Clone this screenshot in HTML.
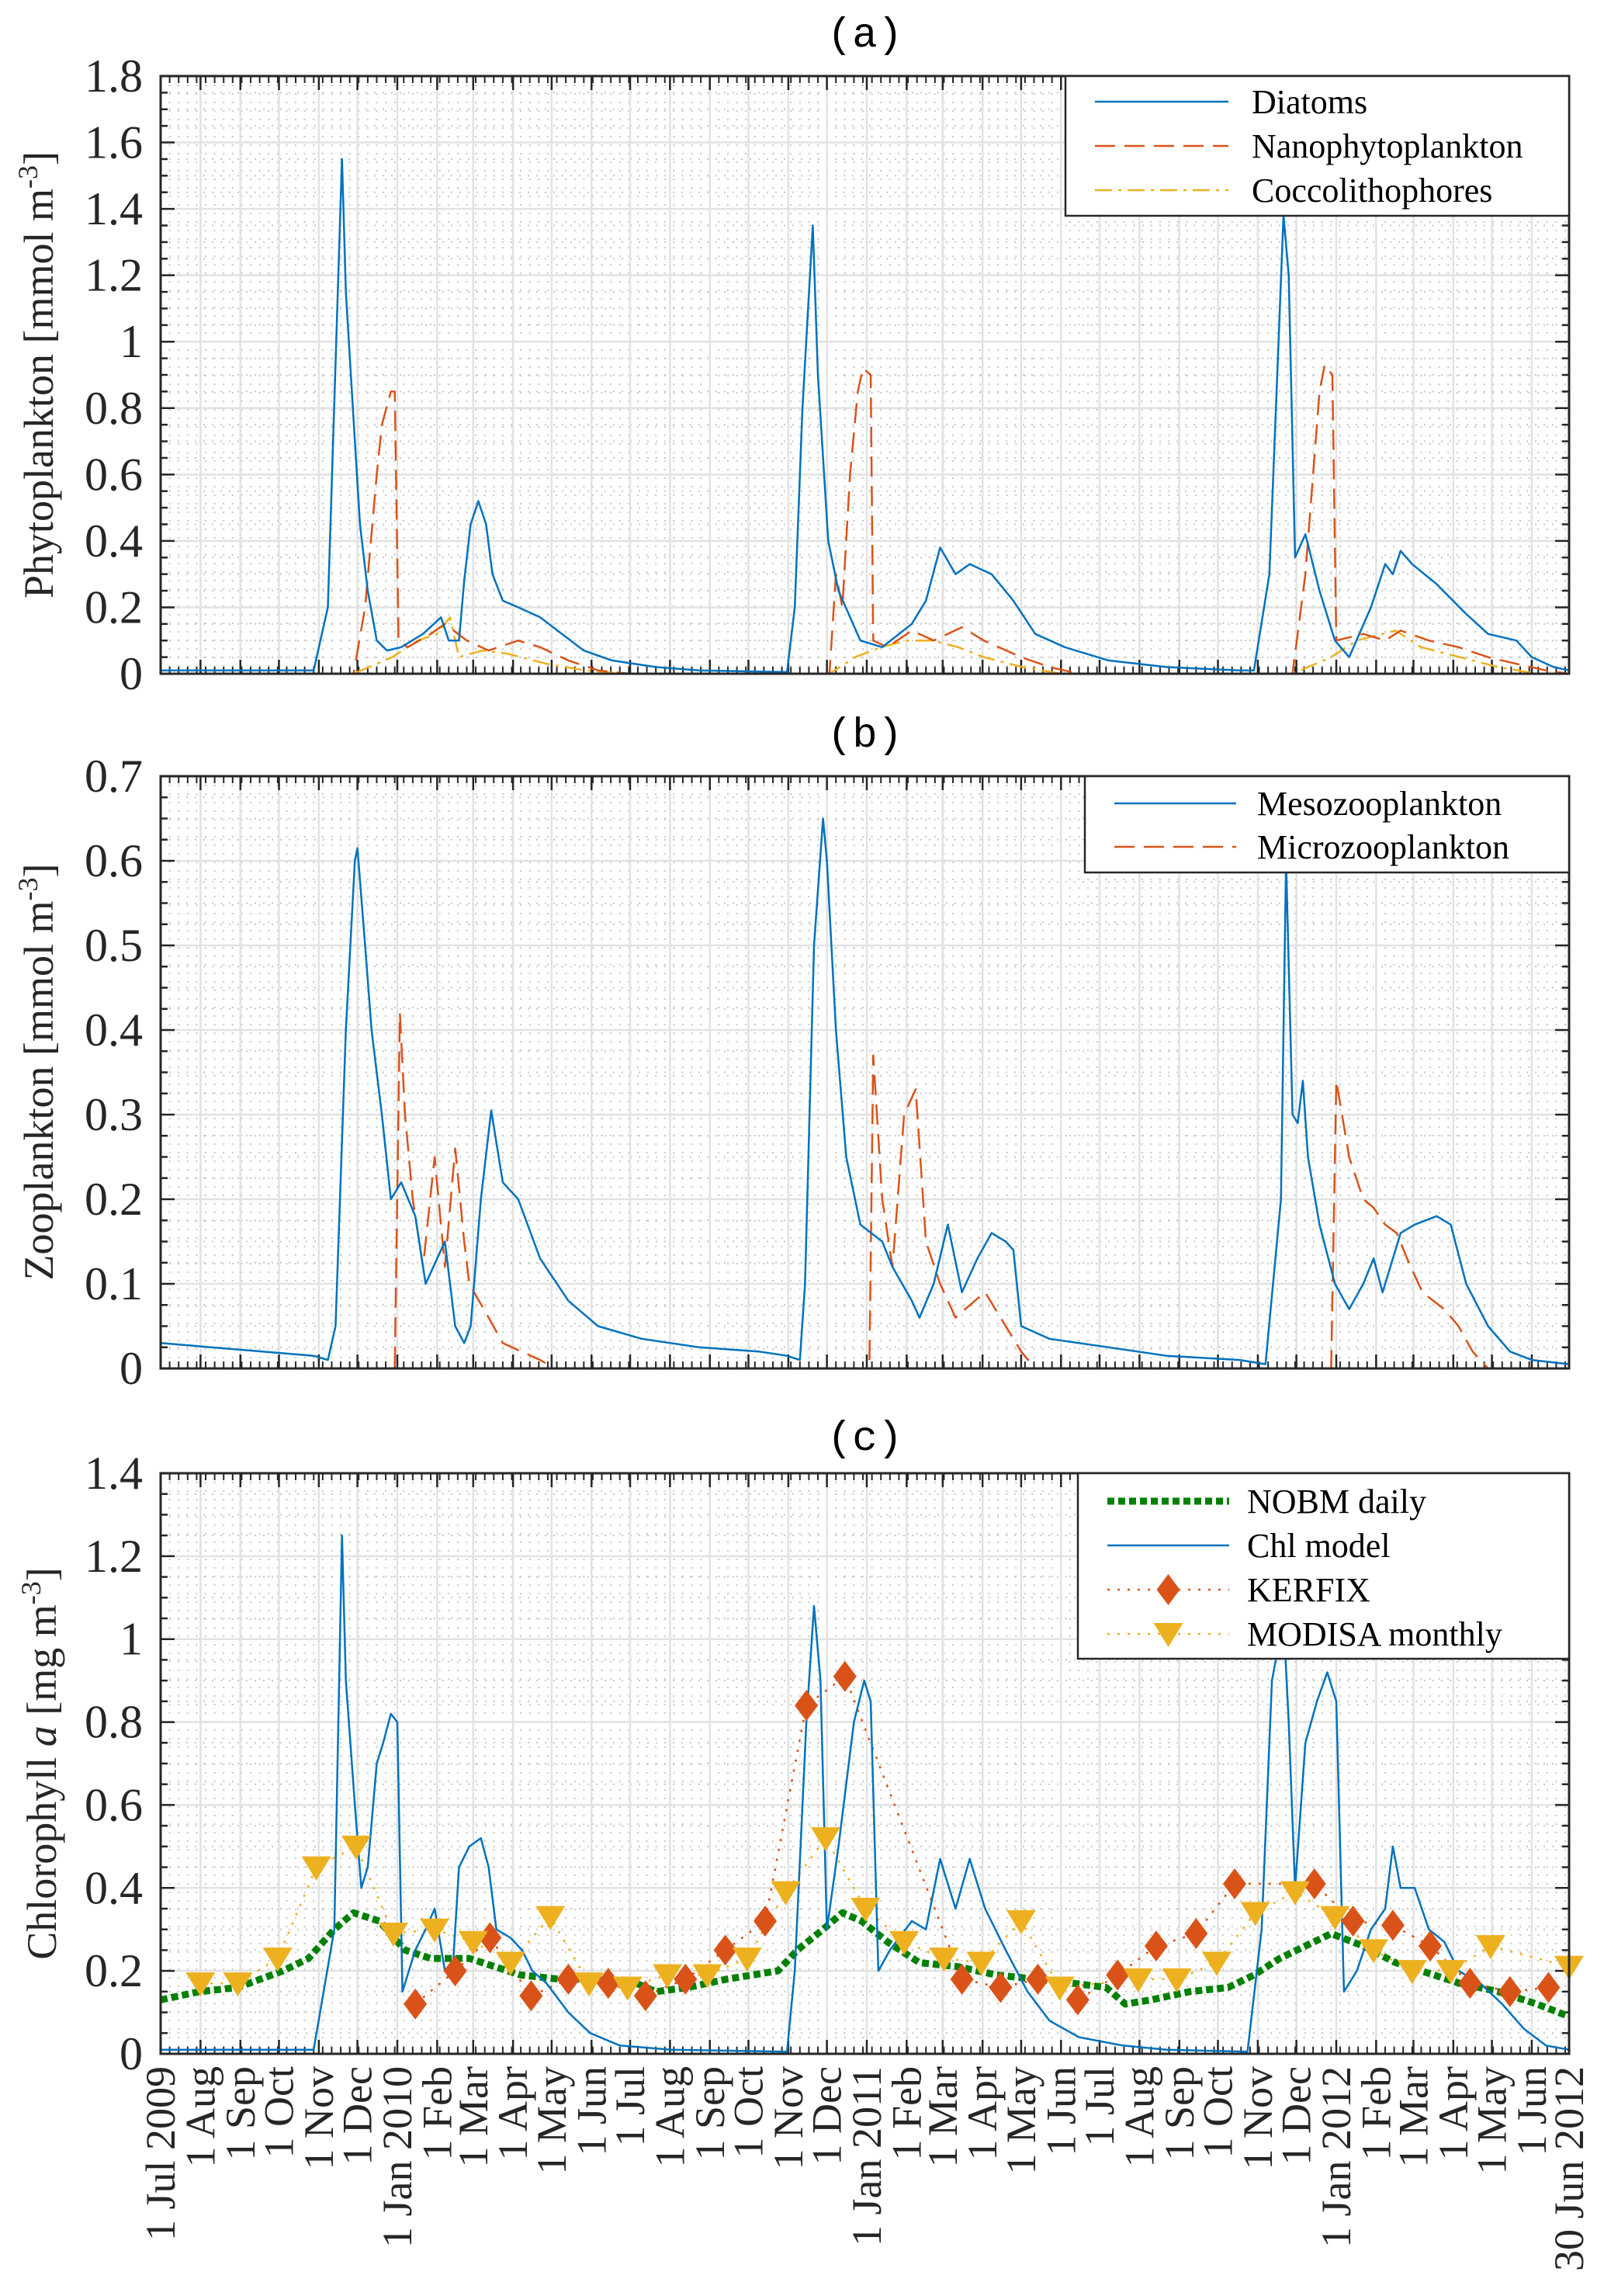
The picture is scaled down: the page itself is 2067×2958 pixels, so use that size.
<!DOCTYPE html>
<html><head><meta charset="utf-8"><style>
html,body{margin:0;padding:0;background:#fff}
svg{display:block}
</style></head><body>
<svg id="fig" width="2067" height="2958" viewBox="0 0 2067 2958" xmlns="http://www.w3.org/2000/svg"></svg>
<script>
// ---------- data (days since 1 Jul 2009) ----------
const diatomDays=[0,119,130,141,144,151,155,161,168,176,187,204,218,224,232,236,241,247,253,258,266,278,295,312,329,351,385,419,487,493,499,507,511,519,527,544,561,584,595,606,618,629,646,663,680,703,737,782,839,850,862,873,877,882,890,901,913,924,941,952,958,964,973,992,1015,1032,1054,1066,1083,1095];
const diatomVals=[0.01,0.01,0.2,1.55,1.15,0.7,0.45,0.25,0.1,0.07,0.08,0.12,0.17,0.1,0.1,0.28,0.45,0.52,0.45,0.3,0.22,0.2,0.17,0.12,0.07,0.04,0.02,0.01,0.005,0.2,0.8,1.35,0.9,0.4,0.25,0.1,0.08,0.15,0.22,0.38,0.3,0.33,0.3,0.22,0.12,0.08,0.04,0.02,0.01,0.01,0.3,1.38,1.2,0.35,0.42,0.25,0.1,0.05,0.2,0.33,0.3,0.37,0.33,0.27,0.18,0.12,0.1,0.05,0.02,0.01];
const nanoDays=[0,150,159,168,172,179,182,185,192,210,221,238,255,278,295,317,340,365,520,525,530,536,542,546,552,554,565,584,601,623,640,669,691,714,880,890,901,905,911,914,935,952,964,986,1009,1032,1054,1077,1095];
const nanoVals=[0,0,0.2,0.6,0.75,0.85,0.85,0.1,0.08,0.12,0.15,0.1,0.07,0.1,0.08,0.04,0.01,0,0,0.3,0.2,0.6,0.85,0.92,0.9,0.1,0.08,0.13,0.1,0.14,0.1,0.05,0.02,0,0,0.3,0.85,0.93,0.9,0.1,0.12,0.1,0.13,0.1,0.08,0.05,0.03,0.01,0];
const coccoDays=[0,150,180,200,215,225,232,250,270,300,330,360,520,540,560,580,600,620,640,670,700,880,910,930,960,980,1010,1040,1070,1095];
const coccoVals=[0,0,0.05,0.1,0.12,0.17,0.05,0.07,0.06,0.03,0.01,0,0,0.05,0.08,0.1,0.1,0.08,0.05,0.02,0,0,0.05,0.1,0.13,0.08,0.05,0.02,0,0];
const mesoDays=[0,119,130,136,144,151,153,159,164,172,179,187,198,206,215,221,229,236,241,249,257,266,278,295,317,340,374,419,465,487,497,501,508,515,518,525,533,544,561,569,584,590,601,612,623,635,646,657,663,669,691,737,782,839,859,871,875,880,884,888,892,901,913,924,935,943,950,964,975,992,1003,1015,1032,1049,1066,1095];
const mesoVals=[0.03,0.015,0.01,0.05,0.4,0.6,0.615,0.5,0.4,0.3,0.2,0.22,0.18,0.1,0.13,0.15,0.05,0.03,0.05,0.2,0.305,0.22,0.2,0.13,0.08,0.05,0.035,0.025,0.02,0.015,0.01,0.1,0.5,0.65,0.6,0.4,0.25,0.17,0.15,0.12,0.08,0.06,0.1,0.17,0.09,0.13,0.16,0.15,0.14,0.05,0.035,0.025,0.015,0.01,0.005,0.2,0.6,0.3,0.29,0.34,0.25,0.17,0.1,0.07,0.1,0.13,0.09,0.16,0.17,0.18,0.17,0.1,0.05,0.02,0.01,0.005];
const microDays=[0,182,186,190,196,204,213,221,229,236,240,255,266,295,306,551,554,561,569,578,587,595,606,618,633,641,657,669,680,910,914,924,935,943,952,961,969,981,998,1009,1020,1032,1095];
const microVals=[0,0,0.42,0.3,0.2,0.12,0.25,0.12,0.26,0.15,0.1,0.06,0.03,0.01,0,0,0.37,0.2,0.12,0.3,0.33,0.15,0.1,0.06,0.08,0.09,0.05,0.02,0,0,0.34,0.25,0.2,0.19,0.17,0.16,0.13,0.09,0.07,0.05,0.02,0,0];
const chlDays=[0,119,135,141,144,151,156,161,168,173,179,184,188,198,206,213,221,227,232,240,249,255,261,272,281,289,300,317,334,357,397,487,493,502,508,513,518,527,539,547,552,558,567,584,595,606,618,629,641,657,674,691,714,748,782,845,856,864,873,877,882,890,899,907,914,920,930,941,952,958,964,975,986,998,1009,1026,1043,1060,1077,1095];
const chlVals=[0.01,0.01,0.3,1.25,0.9,0.6,0.4,0.45,0.7,0.75,0.82,0.8,0.15,0.25,0.3,0.35,0.2,0.2,0.45,0.5,0.52,0.45,0.3,0.28,0.25,0.2,0.17,0.1,0.05,0.02,0.01,0.005,0.2,0.8,1.08,0.9,0.3,0.5,0.8,0.9,0.85,0.2,0.25,0.32,0.3,0.47,0.35,0.47,0.35,0.25,0.15,0.08,0.04,0.02,0.01,0.005,0.3,0.9,1.05,0.8,0.4,0.75,0.85,0.92,0.85,0.15,0.2,0.3,0.35,0.5,0.4,0.4,0.3,0.27,0.2,0.17,0.12,0.06,0.02,0.01];
const nobmDays=[0,30,60,95,115,135,150,170,190,210,240,260,280,310,340,370,385,410,440,460,480,495,515,530,545,565,590,620,650,680,710,735,750,770,800,830,850,870,890,910,935,960,980,1010,1040,1070,1095];
const nobmVals=[0.13,0.15,0.16,0.2,0.23,0.3,0.34,0.32,0.25,0.23,0.23,0.21,0.19,0.18,0.18,0.17,0.15,0.16,0.18,0.19,0.2,0.25,0.3,0.34,0.32,0.27,0.22,0.21,0.19,0.18,0.17,0.16,0.12,0.13,0.15,0.16,0.19,0.23,0.26,0.29,0.26,0.22,0.2,0.17,0.15,0.12,0.09];
const kerfixDays=[198,229,256,288,317,348,377,408,439,470,502,532,623,653,682,713,744,774,805,835,897,927,958,987,1018,1049,1079];
const kerfixVals=[0.12,0.2,0.28,0.14,0.18,0.17,0.14,0.18,0.25,0.32,0.84,0.91,0.18,0.16,0.18,0.13,0.19,0.26,0.29,0.41,0.41,0.32,0.31,0.26,0.17,0.15,0.16];
const modisDays=[31,60,91,121,152,181,213,243,272,303,333,363,394,425,456,486,517,548,578,609,638,669,699,760,790,821,851,882,913,943,973,1003,1034,1095];
const modisVals=[0.17,0.17,0.23,0.45,0.5,0.29,0.3,0.27,0.22,0.33,0.17,0.16,0.19,0.19,0.23,0.39,0.52,0.35,0.27,0.23,0.22,0.32,0.16,0.18,0.18,0.22,0.34,0.39,0.33,0.25,0.2,0.2,0.26,0.21];
const monthNames=['Jan','Feb','Mar','Apr','May','Jun','Jul','Aug','Sep','Oct','Nov','Dec'];

// ---------- layout ----------
const NS='http://www.w3.org/2000/svg';
const svg=document.getElementById('fig');
const X0=207,X1=2022,TOTAL=1095;
const xs=d=>X0+d/TOTAL*(X1-X0);
const FONT='"Liberation Serif", serif';
function el(tag,attrs,parent){const e=document.createElementNS(NS,tag);for(const k in attrs)e.setAttribute(k,attrs[k]);(parent||svg).appendChild(e);return e;}

const start=Date.UTC(2009,6,1);
const months=[];
for(let i=0;i<=36;i++){const t=Date.UTC(2009,6+i,1);const d=Math.round((t-start)/86400000);if(d>TOTAL)break;const dt=new Date(t);
 let lab='1 '+monthNames[dt.getUTCMonth()];if(dt.getUTCMonth()===0||i===0)lab+=' '+dt.getUTCFullYear();months.push({d,lab});}
months.push({d:TOTAL,lab:'30 Jun 2012'});

function panel(cfg){
 const {name,top,bot,ymax,major,minor,title,titleY}=cfg;
 const g=el('g',{});
 
 
 const ys=v=>bot-v/ymax*(bot-top);
 for(let v=minor;v<ymax-1e-9;v+=minor){if(Math.abs(v/major-Math.round(v/major))<1e-6)continue;
  el('line',{x1:X0,x2:X1,y1:ys(v),y2:ys(v),stroke:'#c8c8c8','stroke-width':2,'stroke-dasharray':'2 9'},g);}
 for(let d=7;d<TOTAL;d+=7){el('line',{x1:xs(d),x2:xs(d),y1:top,y2:bot,stroke:'#c8c8c8','stroke-width':2,'stroke-dasharray':'2 9'},g);}
 for(let v=major;v<ymax-1e-9;v+=major){el('line',{x1:X0,x2:X1,y1:ys(v),y2:ys(v),stroke:'#e2e2e2','stroke-width':2.5},g);}
 months.forEach(m=>{el('line',{x1:xs(m.d),x2:xs(m.d),y1:top,y2:bot,stroke:'#e2e2e2','stroke-width':2.5},g);});
 for(let d=7;d<TOTAL;d+=7){el('line',{x1:xs(d),x2:xs(d),y1:bot,y2:bot-9,stroke:'#262626','stroke-width':2},g);el('line',{x1:xs(d),x2:xs(d),y1:top,y2:top+9,stroke:'#262626','stroke-width':2},g);}
 months.forEach(m=>{el('line',{x1:xs(m.d),x2:xs(m.d),y1:bot,y2:bot-18,stroke:'#262626','stroke-width':2.5},g);el('line',{x1:xs(m.d),x2:xs(m.d),y1:top,y2:top+18,stroke:'#262626','stroke-width':2.5},g);});
 for(let v=0;v<=ymax+1e-9;v+=minor){const isM=Math.abs(v/major-Math.round(v/major))<1e-6;const L=isM?18:9;
  el('line',{x1:X0,x2:X0+L,y1:ys(v),y2:ys(v),stroke:'#262626','stroke-width':2.5},g);
  el('line',{x1:X1,x2:X1-L,y1:ys(v),y2:ys(v),stroke:'#262626','stroke-width':2.5},g);
  if(isM){const t=el('text',{x:184,y:ys(v)+20,'text-anchor':'end','font-family':FONT,'font-size':60,fill:'#262626'},g);
   
   t.textContent=String(+v.toFixed(2));}}
 const tt=el('text',{x:(X0+X1)/2,y:titleY,'text-anchor':'middle','font-family':'"Liberation Mono", monospace','font-size':54,fill:'#000'},g);
 tt.textContent=title;
 return {g,ys};
}
function line(g,ys,days,vals,style,nm){
 let p='';days.forEach((d,i)=>{p+=(i?'L':'M')+xs(d).toFixed(1)+' '+ys(vals[i]).toFixed(1);});
 const e=el('path',Object.assign({d:p,fill:'none','stroke-linejoin':'round'},style),g);
 
}
function frame(g,top,bot){const r=el('rect',{x:X0,y:top,width:X1-X0,height:bot-top,fill:'none',stroke:'#262626','stroke-width':3},g);
 }
function ylabel(g,x,cy,html){const t=el('text',{x:0,y:0,transform:`translate(${x},${cy}) rotate(-90)`,'text-anchor':'middle','font-family':FONT,'font-size':54,fill:'#262626'},g);
 t.innerHTML=html;}
function legend(g,x,y,w,h,items){
 const lg=el('g',{},g);
 el('rect',{x,y,width:w,height:h,fill:'#fff',stroke:'#262626','stroke-width':2.5},lg);
 items.forEach((it,i)=>{const cy=y+it.dy;
  const ent=el('g',{},lg);
  el('line',Object.assign({x1:x+it.lx1,x2:x+it.lx2,y1:cy,y2:cy},it.style),ent);
  if(it.marker)it.marker(x+(it.lx1+it.lx2)/2,cy,ent);
  const t=el('text',{x:x+it.tx,y:cy+15,'font-family':FONT,'font-size':44,fill:'#000'},ent);t.textContent=it.label;});
}
const BLUE='#0072BD',ORANGE='#D95319',YEL='#EDB120',GREEN='#008000';
function diamond(cx,cy,g){return el('path',{d:`M${cx} ${cy-20}L${cx+15} ${cy}L${cx} ${cy+20}L${cx-15} ${cy}Z`,fill:ORANGE},g);}
function tri(cx,cy,g){return el('path',{d:`M${cx-19} ${cy-14}L${cx+19} ${cy-14}L${cx} ${cy+17}Z`,fill:YEL},g);}

// ----- panel a -----
let A=panel({name:'panel-a-phytoplankton',top:98,bot:868,ymax:1.8,major:0.2,minor:0.05,title:'(a)',titleY:60});
line(A.g,A.ys,coccoDays,coccoVals,{stroke:YEL,'stroke-width':2.5,'stroke-dasharray':'22 8 4 8'},'coccolithophores-line');
line(A.g,A.ys,nanoDays,nanoVals,{stroke:ORANGE,'stroke-width':2.5,'stroke-dasharray':'26 12'},'nanophytoplankton-line');
line(A.g,A.ys,diatomDays,diatomVals,{stroke:BLUE,'stroke-width':2.5},'diatoms-line');
frame(A.g,98,868);
ylabel(A.g,68,483,'Phytoplankton [mmol m<tspan dy="-20" font-size="36">-3</tspan><tspan dy="20">]</tspan>');
legend(A.g,1373,98,649,180,[
 {dy:33,lx1:38,lx2:210,tx:240,label:'Diatoms',style:{stroke:BLUE,'stroke-width':2.5}},
 {dy:90,lx1:38,lx2:210,tx:240,label:'Nanophytoplankton',style:{stroke:ORANGE,'stroke-width':2.5,'stroke-dasharray':'26 12'}},
 {dy:147,lx1:38,lx2:210,tx:240,label:'Coccolithophores',style:{stroke:YEL,'stroke-width':2.5,'stroke-dasharray':'22 8 4 8'}}]);

// ----- panel b -----
let B=panel({name:'panel-b-zooplankton',top:1000,bot:1763,ymax:0.7,major:0.1,minor:0.025,title:'(b)',titleY:962});
line(B.g,B.ys,microDays,microVals,{stroke:ORANGE,'stroke-width':2.5,'stroke-dasharray':'26 12'},'microzooplankton-line');
line(B.g,B.ys,mesoDays,mesoVals,{stroke:BLUE,'stroke-width':2.5},'mesozooplankton-line');
frame(B.g,1000,1763);
ylabel(B.g,68,1381,'Zooplankton [mmol m<tspan dy="-20" font-size="36">-3</tspan><tspan dy="20">]</tspan>');
legend(B.g,1398,1000,624,124,[
 {dy:35,lx1:38,lx2:195,tx:222,label:'Mesozooplankton',style:{stroke:BLUE,'stroke-width':2.5}},
 {dy:91,lx1:38,lx2:195,tx:222,label:'Microzooplankton',style:{stroke:ORANGE,'stroke-width':2.5,'stroke-dasharray':'26 12'}}]);

// ----- panel c -----
let C=panel({name:'panel-c-chlorophyll',top:1898,bot:2646,ymax:1.4,major:0.2,minor:0.05,title:'(c)',titleY:1868});
line(C.g,C.ys,modisDays,modisVals,{stroke:YEL,'stroke-width':2.5,'stroke-dasharray':'3 10'},'modisa-connector');
line(C.g,C.ys,kerfixDays,kerfixVals,{stroke:ORANGE,'stroke-width':2.5,'stroke-dasharray':'3 10'},'kerfix-connector');
line(C.g,C.ys,nobmDays,nobmVals,{stroke:GREEN,'stroke-width':9,'stroke-dasharray':'9 5'},'nobm-daily-line');
line(C.g,C.ys,chlDays,chlVals,{stroke:BLUE,'stroke-width':2.5},'chl-model-line');
kerfixDays.forEach((d,i)=>{const m=diamond(xs(d),C.ys(kerfixVals[i]),C.g);
 
 });
modisDays.forEach((d,i)=>{const m=tri(xs(d),C.ys(modisVals[i]),C.g);
 
 });
frame(C.g,1898,2646);
ylabel(C.g,72,2272,'Chlorophyll <tspan font-style="italic">a</tspan> [mg m<tspan dy="-20" font-size="36">-3</tspan><tspan dy="20">]</tspan>');
legend(C.g,1389,1898,633,239,[
 {dy:36,lx1:38,lx2:195,tx:218,label:'NOBM daily',style:{stroke:GREEN,'stroke-width':9,'stroke-dasharray':'9 5'}},
 {dy:93,lx1:38,lx2:195,tx:218,label:'Chl model',style:{stroke:BLUE,'stroke-width':2.5}},
 {dy:150,lx1:38,lx2:195,tx:218,label:'KERFIX',style:{stroke:ORANGE,'stroke-width':2.5,'stroke-dasharray':'3 10'},marker:diamond},
 {dy:207,lx1:38,lx2:195,tx:218,label:'MODISA monthly',style:{stroke:YEL,'stroke-width':2.5,'stroke-dasharray':'3 10'},marker:tri}]);
months.forEach(m=>{const x=xs(m.d)+18;const t=el('text',{x:0,y:0,transform:`translate(${x},2662) rotate(-90)`,'text-anchor':'end','font-family':FONT,'font-size':54,fill:'#262626'});
 
 
 t.textContent=m.lab;});
</script>
</body></html>
